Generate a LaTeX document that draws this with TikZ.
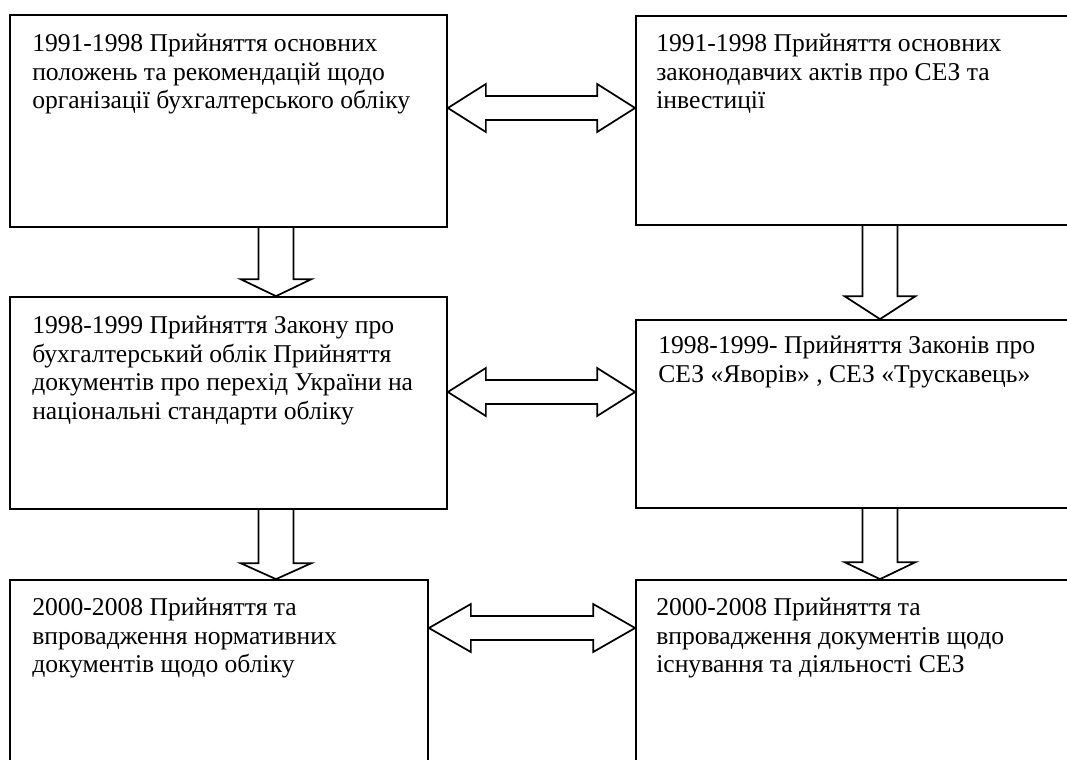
\documentclass[tikz,border=0pt]{standalone}
\usepackage{fontspec}
\setmainfont{Liberation Serif}
\usetikzlibrary{calc,fit}
\tikzset{
  box/.style={draw, line width=1.3pt, inner sep=0pt},
  txt/.style={inner sep=0pt, anchor=north west, align=left,
    font=\fontsize{19.2pt}{21.4pt}\selectfont},
  fat/.style={draw, line width=1.3pt, line join=miter},
}
% horizontal double block arrow: left node, right node, tip y (px), head length (px)
\newcommand{\fatH}[4]{%
  \draw[fat] (#1.east |- 0,#3) -- ++(#4,-24) -- ++(0,12)
    -- ($(#2.west |- 0,#3)+(-#4,-12)$) -- ++(0,-12) -- (#2.west |- 0,#3)
    -- ++(-#4,24) -- ++(0,-12) -- ($(#1.east |- 0,#3)+(#4,12)$) -- ++(0,12) -- cycle;}
% vertical down block arrow: top node, bottom node, x (px), head length (px)
\newcommand{\fatV}[4]{%
  \draw[fat] ($(#1.south -| #3,0)+(-17.5,0)$) -- ($(#2.north -| #3,0)+(-17.5,-#4)$)
    -- ++(-18,0) -- (#2.north -| #3,0) -- ++(35.5,-#4) -- ++(-18,0)
    -- ($(#1.south -| #3,0)+(17.5,0)$);}
\begin{document}
\begin{tikzpicture}[x=0.75pt,y=-0.75pt]
\useasboundingbox (0,0) rectangle (1067,760);
\clip (0,0) rectangle (1067,760);
% boxes
\node[box, fit={(10,15) (447,227)}] (A) {};
\node[box, fit={(636,16) (1100,225)}] (B) {};
\node[box, fit={(10,297) (447,509)}] (C) {};
\node[box, fit={(636,320) (1100,508)}] (D) {};
\node[box, fit={(10,580) (428,800)}] (E) {};
\node[box, fit={(636,580) (1100,800)}] (F) {};
% texts
\node[txt] (tA) at (32,34) {1991-1998 Прийняття основних\\положень та рекомендацій щодо\\організації бухгалтерського обліку};
\node[txt] (tB) at (656,34) {1991-1998 Прийняття основних\\законодавчих актів про СЕЗ та\\інвестиції};
\node[txt] (tC) at (32,316) {1998-1999 Прийняття Закону про\\бухгалтерський облік Прийняття\\документів про перехід України на\\національні стандарти обліку};
\node[txt] (tD) at (658,336) {1998-1999- Прийняття Законів про\\СЕЗ «Яворів» , СЕЗ «Трускавець»};
\node[txt] (tE) at (32,598) {2000-2008 Прийняття та\\впровадження нормативних\\документів щодо обліку};
\node[txt] (tF) at (656,598) {2000-2008 Прийняття та\\впровадження документів щодо\\існування та діяльності СЕЗ};
% connectors
\fatH{A}{B}{108}{38}
\fatH{C}{D}{392}{38}
\fatH{E}{F}{628}{42}
\fatV{A}{C}{276}{17}
\fatV{C}{E}{276}{16}
\fatV{B}{D}{880}{23}
\fatV{D}{F}{880}{17}
\end{tikzpicture}
\end{document}
